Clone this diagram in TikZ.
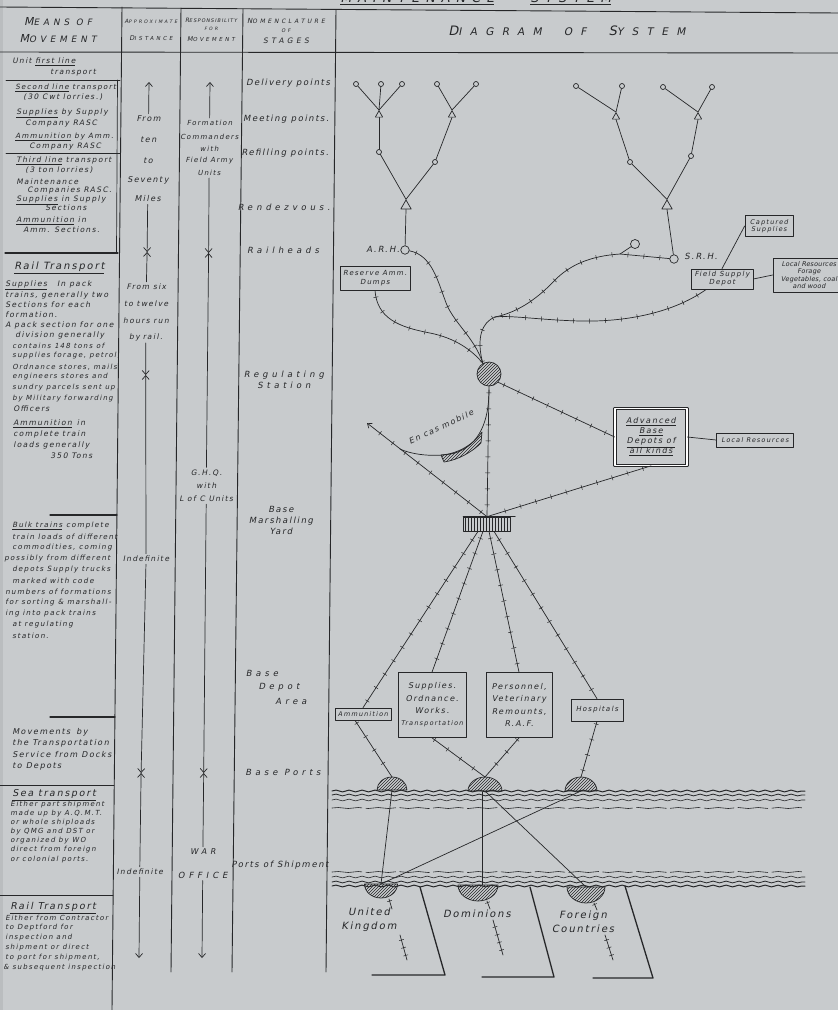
\documentclass[tikz,border=0pt]{standalone}
\usepackage{fontspec}
\setmainfont{DejaVu Sans}
\newfontfamily\hwa{DejaVu Sans}[LetterSpace=3, FakeSlant=0.2]
\newfontfamily\hwb{DejaVu Sans}[LetterSpace=18, FakeSlant=0.2]
\newfontfamily\hwc{DejaVu Sans}[LetterSpace=45, FakeSlant=0.2]
\newfontfamily\hwd{DejaVu Sans}[LetterSpace=80, FakeSlant=0.2]
\usetikzlibrary{shapes.geometric,patterns,decorations.markings,decorations.pathmorphing,arrows.meta,calc}
\definecolor{paper}{RGB}{200,203,205}
\definecolor{ink}{RGB}{38,39,41}
\newcommand\fsz[1]{\fontsize{#1}{#1}\selectfont}
\tikzset{
  L/.style={anchor=west, inner sep=0pt, font=\hwb\fsz{7.5}},
  Lq/.style={anchor=west, inner sep=0pt, font=\hwb\fsz{7.2}},
  Ls/.style={anchor=west, inner sep=0pt, font=\hwb\fsz{7}},
  Lb/.style={anchor=west, inner sep=0pt, font=\hwb\fsz{7.6}},
  Lh/.style={anchor=west, inner sep=0pt, font=\hwb\fsz{10}},
  ctr/.style={inner sep=0pt, align=center, font=\hwb\fsz{7.5}},
  nom/.style={inner sep=0pt, align=center, font=\hwb\fontsize{8.5}{11}\selectfont},
  noms/.style={inner sep=0pt, align=center, font=\hwc\fontsize{8.5}{11}\selectfont},
  hd/.style={inner sep=0pt, font=\hwc},
  bx/.style={draw, inner sep=1pt, align=center, line width=0.7pt, font=\hwb\fontsize{6.5}{7.5}\selectfont},
  dp/.style={circle, draw, inner sep=0pt, minimum size=5pt},
  tris/.style={regular polygon, regular polygon sides=3, draw, inner sep=0pt, minimum size=8.5pt},
  trib/.style={regular polygon, regular polygon sides=3, draw, inner sep=0pt, minimum size=12pt},
  rail/.style={postaction={decorate, decoration={markings, mark=between positions 0.05 and 0.97 step 16pt with {\draw[-,line width=0.5pt] (0pt,-2.3pt) -- (0pt,2.3pt);}}}},
  railsh/.style={postaction={decorate, decoration={markings, mark=between positions 0.2 and 0.9 step 8pt with {\draw[-,line width=0.5pt] (0pt,-2.3pt) -- (0pt,2.3pt);}}}},
  sea/.style={decorate, decoration={snake, amplitude=0.9pt, segment length=13pt}},
  rule/.style={line width=0.9pt},
  tip/.style={-{Straight Barb[length=4pt,width=7pt]}, shorten <=2pt},
  land/.style={line width=1.3pt},
  hatch/.style={pattern=north east lines, pattern color=ink},
}
\begin{document}
\begin{tikzpicture}[x=1pt,y=-1pt,color=ink,line width=0.7pt,line cap=round,line join=round]
\fill[paper] (0,0) rectangle (838,1010);
\useasboundingbox (0,0) rectangle (838,1010);
\fill[paper!93!black] (0,0) rectangle (3,1010);
% cut-off title
\node[anchor=base west, inner sep=0pt, font=\hwc\fsz{13}] (title) at (340,2.5) {\underline{MAINTENANCE}\hspace{36pt}\underline{SYSTEM}};
% frame rules
\draw[rule] (0,7) -- (838,13);
\draw[rule] (0,52) -- (838,53);
\draw[rule] (122,7) -- (112,1010);
\draw[rule] (181,8) -- (171,972);
\draw[rule] (243,9) -- (232,972);
\draw[rule] (336,10) -- (326,972);
% left column separators
\draw[rule] (6,80) -- (120,80);
\draw[rule] (6,153) -- (120,153);
\draw (117.5,80) -- (116.5,253);
\draw[line width=1.2pt] (5,253) -- (118,253);
\draw[line width=1.1pt] (50,515) -- (117,515);
\draw[line width=1.1pt] (50,717) -- (115,717);
\draw[rule] (0,785) -- (114,785);
\draw[rule] (0,895) -- (113,895);
% headers
\node[hd] (h1) at (58,22) {\fsz{8.8}{\fsz{11}M}EANS OF};
\node[hd] (h2) at (58,39) {\fsz{8.8}{\fsz{11}M}OVEMENT};
\node[hd] (h3) at (151,21) {\fsz{4.7}{\fsz{5.8}A}PPROXIMATE};
\node[hd] (h4) at (151,38) {\fsz{5.5}{\fsz{6.5}D}ISTANCE};
\node[inner sep=0pt, font=\hwb] (h5) at (211,20) {\fsz{5}{\fsz{6}R}ESPONSIBILITY};
\node[hd] (h6) at (211,29) {\fsz{4.5}FOR};
\node[hd] (h7) at (211,39) {\fsz{5.5}{\fsz{6.5}M}OVEMENT};
\node[hd] (h8) at (286,21) {\fsz{6}{\fsz{7}N}OMENCLATURE};
\node[hd] (h9) at (286,31) {\fsz{5}OF};
\node[hd] (h10) at (286,41) {\fsz{7.5}STAGES};
\node[inner sep=0pt, font=\hwd] (h11) at (567,31) {\fsz{10.5}{\fsz{13}D}IAGRAM\hspace{22pt}OF\hspace{22pt}{\fsz{13}S}YSTEM};
% left column notes
\node[L] (a1) at (12,62) {Unit \underline{first line}};
\node[L] (a2) at (50,73) {transport};
\node[Lq] (a3) at (15,88) {\underline{Second line} transport};
\node[L] (a4) at (23,97) {(30 Cwt lorries.)};
\node[L] (a5) at (16,113) {\underline{Supplies} by Supply};
\node[L] (a6) at (25,123) {Company RASC};
\node[Lq] (a7) at (15,137) {\underline{Ammunition} by Amm.};
\node[L] (a8) at (29,146) {Company RASC};
\node[L] (a9) at (16,161) {\underline{Third line} transport};
\node[L] (a10) at (25,170) {(3 ton lorries)};
\node[L] (a11) at (16,182) {Maintenance};
\node[L] (a12) at (27,190) {Companies RASC.};
\node[L] (a13) at (16,200) {\underline{Supplies} in Supply};
\node[L] (a14) at (45,208) {Sections};
\node[L] (a15) at (16,221) {\underline{Ammunition} in};
\node[L] (a16) at (23,230) {Amm. Sections.};
\node[Lh] (a17) at (14,268) {\underline{Rail Transport}};
\node[Lb] (a18) at (5,285) {\underline{Supplies}\hspace{10pt}In pack};
\node[Lb] (a19) at (5,295) {trains, generally two};
\node[Lb] (a20) at (5,305) {Sections for each};
\node[Lb] (a21) at (5,315) {formation.};
\node[Lb] (a22) at (5,325) {A pack section for one};
\node[Lb] (a23) at (15,335) {division generally};
\node[Ls] (a24) at (12,346) {contains 148 tons of};
\node[Ls] (a25) at (12,356) {supplies forage, petrol,};
\node[Ls] (a26) at (12,367) {Ordnance stores, mails};
\node[Ls] (a27) at (12,377) {engineers stores and};
\node[Ls] (a28) at (12,388) {sundry parcels sent up};
\node[Ls] (a29) at (12,399) {by Military forwarding};
\node[Lb] (a30) at (13,409) {Officers};
\node[Lb] (a31) at (13,424) {\underline{Ammunition}\hspace{5pt}in};
\node[Lb] (a32) at (13,434) {complete train};
\node[Lb] (a33) at (13,445) {loads generally};
\node[Lb] (a34) at (50,456) {350 Tons};
\node[Lq] (a35) at (12,526) {\underline{Bulk trains} complete};
\node[Lq] (a36) at (12,537) {train loads of different};
\node[Lq] (a37) at (12,548) {commodities, coming};
\node[Lq] (a38) at (4,559) {possibly from different};
\node[Lq] (a39) at (12,570) {depots Supply trucks};
\node[Lq] (a40) at (12,581) {marked with code};
\node[Lq] (a41) at (5,592) {numbers of formations};
\node[Lq] (a42) at (5,603) {for sorting \& marshall-};
\node[Lq] (a43) at (5,614) {ing into pack trains};
\node[Lq] (a44) at (12,625) {at regulating};
\node[Lq] (a45) at (12,636) {station.};
\node[Lb, font=\hwb\fsz{8}] (a46) at (12,732) {Movements\hspace{6pt}by};
\node[Lb, font=\hwb\fsz{8}] (a47) at (12,743) {the Transportation};
\node[Lb, font=\hwb\fsz{8}] (a48) at (12,755) {Service from Docks};
\node[Lb, font=\hwb\fsz{8}] (a49) at (12,766) {to Depots};
\node[Lh, font=\hwb\fsz{9.5}] (a50) at (12,795) {\underline{Sea transport}};
\node[Ls] (a51) at (10,805) {Either part shipment};
\node[Ls] (a52) at (10,814) {made up by A.Q.M.T.};
\node[Ls] (a53) at (10,823) {or whole shiploads};
\node[Ls] (a54) at (10,832) {by QMG and DST or};
\node[Ls] (a55) at (10,841) {organized by WO};
\node[Ls] (a56) at (10,850) {direct from foreign};
\node[Ls] (a57) at (10,860) {or colonial ports.};
\node[Lh, font=\hwb\fsz{9.5}] (a58) at (10,908) {\underline{Rail Transport}};
\node[Ls] (a59) at (5,918) {Either from Contractor};
\node[Ls] (a60) at (5,928) {to Deptford for};
\node[Ls] (a61) at (5,938) {inspection and};
\node[Ls] (a62) at (5,948) {shipment or direct};
\node[Ls] (a63) at (5,958) {to port for shipment,};
\node[Ls] (a64) at (3,968) {\& subsequent inspection};
% column 2: approximate distance
\coordinate (b0) at (149,82);
\node[ctr, font=\hwb\fsz{8}] (b1) at (148.6,119) {From};
\node[ctr, font=\hwb\fsz{8}] (b2) at (148.4,140) {ten};
\node[ctr, font=\hwb\fsz{8}] (b3) at (148.1,161) {to};
\node[ctr, font=\hwb\fsz{8}] (b4) at (147.9,180) {Seventy};
\node[ctr, font=\hwb\fsz{8}] (b5) at (147.7,199) {Miles};
\coordinate (bx1) at (147.1,252);
\node[ctr] (b6) at (146.4,287) {From six};
\node[ctr] (b7) at (146.2,304) {to twelve};
\node[ctr] (b8) at (146.0,321) {hours run};
\node[ctr] (b9) at (145.8,337) {by\hspace{3pt}rail.};
\coordinate (bx2) at (145.7,375);
\node[ctr] (b10) at (146,559) {Indefinite};
\coordinate (bx3) at (141.1,773);
\node[ctr] (b11) at (139.8,872) {Indefinite};
\coordinate (b12) at (139,958);
\draw[tip] (b1.north) -- (b0);
\draw[tip] (b5.south) -- (bx1);
\draw[tip] (b6.north) -- (bx1);
\draw[tip] (b9.south) -- (bx2);
\draw[tip] (b10.north) -- (bx2);
\draw[tip] (b10.south) -- (bx3);
\draw[tip] (b11.north) -- (bx3);
\draw[tip] (b11.south) -- (b12);
% column 3: responsibility
\coordinate (c0) at (210,82);
\node[ctr, font=\hwb\fsz{7}] (c1) at (209.6,123) {Formation};
\node[ctr, font=\hwb\fsz{7}] (c2) at (209.4,137) {Commanders};
\node[ctr, font=\hwb\fsz{7}] (c3) at (209.3,149) {with};
\node[ctr, font=\hwb\fsz{7}] (c4) at (209.2,161) {Field Army};
\node[ctr, font=\hwb\fsz{7}] (c5) at (209.1,173) {Units};
\coordinate (cx1) at (208.6,253);
\node[ctr] (c6) at (206.4,473) {G.H.Q.};
\node[ctr] (c7) at (206.3,486) {with};
\node[ctr] (c8) at (206.2,499) {L of C Units};
\coordinate (cx2) at (203.7,773);
\node[ctr, font=\hwc\fsz{8}] (c9) at (202.9,852) {WAR};
\node[ctr, font=\hwc\fsz{8.5}] (c10) at (202.7,875) {OFFICE};
\coordinate (c11) at (202,958);
\draw[tip] (c1.north) -- (c0);
\draw[tip] (c5.south) -- (cx1);
\draw[tip] (c6.north) -- (cx1);
\draw[tip] (c8.south) -- (cx2);
\draw[tip] (c9.north) -- (cx2);
\draw[tip] (c10.south) -- (c11);
% column 4: nomenclature
\node[nom] (n1) at (288,83) {Delivery points};
\node[nom] (n2) at (286,119) {Meeting points.};
\node[nom] (n3) at (285,153) {Refilling points.};
\node[noms] (n4) at (284,207) {Rendezvous.};
\node[noms] (n5) at (283,250) {Railheads};
\node[noms] (n6) at (284,380) {Regulating\\Station};
\node[nom] (n7) at (281,520) {Base\\Marshalling\\Yard};
\node[noms] (n8) at (262,673) {Base};
\node[noms] (n9) at (279,687) {Depot};
\node[noms] (n10) at (291,701) {Area};
\node[noms] (n11) at (283,772) {Base Ports};
\node[nom] (n12) at (280,865) {Ports of Shipment};
% ---------- diagram: left tree
\node[dp] (d1) at (356,84) {};
\node[dp] (d2) at (381,84) {};
\node[dp] (d3) at (402,84) {};
\node[dp] (d4) at (437,84) {};
\node[dp] (d5) at (476,84) {};
\node[tris] (m1) at (379,115) {};
\node[tris] (m2) at (452,115) {};
\node[dp] (r1) at (379,152) {};
\node[dp] (r2) at (435,162) {};
\node[trib] (z1) at (406,206) {};
\node[circle, draw, inner sep=0pt, minimum size=8.5pt] (arh) at (405,250) {};
\node[anchor=east, inner sep=0pt, font=\hwb\fsz{8.5}] (arhl) at (400,249) {A.R.H.};
\foreach \d in {d1,d2,d3} \draw (\d) -- (m1.corner 1);
\foreach \d in {d4,d5} \draw (\d) -- (m2.corner 1);
\draw (m1.south) -- (r1);
\draw (m2.south) -- (r2);
\draw (r1) -- (z1.corner 1);
\draw (r2) -- (z1.corner 1);
\draw (z1.south) -- (arh);
% right tree
\node[dp] (d6) at (576,86) {};
\node[dp] (d7) at (622,86) {};
\node[dp] (d8) at (663,87) {};
\node[dp] (d9) at (712,87) {};
\node[tris] (m3) at (616,117) {};
\node[tris] (m4) at (698,117) {};
\node[dp] (r3) at (630,162) {};
\node[dp] (r4) at (691,156) {};
\node[trib] (z2) at (667,206) {};
\node[circle, draw, inner sep=0pt, minimum size=8.5pt] (srh) at (674,259) {};
\node[anchor=west, inner sep=0pt, font=\hwb\fsz{8.5}] (srhl) at (684,256) {S.R.H.};
\foreach \d in {d6,d7} \draw (\d) -- (m3.corner 1);
\foreach \d in {d8,d9} \draw (\d) -- (m4.corner 1);
\draw (m3.south) -- (r3);
\draw (m4.south) -- (r4);
\draw (r3) -- (z2.corner 1);
\draw (r4) -- (z2.corner 1);
\draw (z2.south) -- (srh);
% boxes upper
\node[bx, minimum width=70pt, minimum height=24pt, font=\hwb\fontsize{7}{9}\selectfont] (RAD) at (375,278) {Reserve Amm.\\Dumps};
\node[bx, minimum width=48pt, minimum height=21pt] (CS) at (769,226) {Captured\\Supplies};
\node[bx, minimum width=62pt, minimum height=20pt, font=\hwb\fontsize{7}{8}\selectfont] (FSD) at (722,279) {Field Supply\\Depot};
\node[bx, minimum width=72pt, minimum height=34pt, font=\hwa\fontsize{6.5}{7.6}\selectfont] (LR1) at (809,275) {Local Resources\\Forage\\Vegetables, coal\\and wood};
\draw (CS.west) -- (FSD.north);
\draw (FSD.east) -- (LR1.west);
% regulating station
\node[circle, draw, minimum size=24pt, inner sep=0pt, hatch] (RS) at (489,374) {};
\coordinate (J1) at (620,254);
\coordinate (mg) at (495,317);
\node[circle, draw, inner sep=0pt, minimum size=9pt] (c5b) at (635,244) {};
\draw[rail] (arh) .. controls (432,255) and (438,282) .. (445,300) .. controls (452,322) and (474,336) .. (RS.120);
\draw[rail] (RAD.south) .. controls (377,318) and (398,327) .. (430,333) .. controls (455,338) and (472,350) .. (RS.120);
\draw[rail] (srh) -- (J1) .. controls (590,256) and (570,265) .. (555,280) .. controls (540,296) and (520,312) .. (mg);
\draw (J1) -- (c5b);
\draw[rail] ($(FSD.south)!0.5!(FSD.south west)$) .. controls (670,315) and (620,322) .. (580,321) .. controls (540,320) and (510,315) .. (mg);
\draw[rail] (mg) .. controls (482,322) and (476,338) .. (RS.120);
% advanced base depots
\node[draw, double, double distance=1.8pt, minimum width=72pt, minimum height=57pt, inner sep=0pt, align=center, font=\hwb\fontsize{8}{10}\selectfont] (ABD) at (651,437) {\underline{Advanced}\\\underline{Base}\\\underline{Depots of}\\\underline{all kinds}};
\node[bx, minimum width=77pt, minimum height=14pt] (LR2) at (755,440) {Local Resources};
\draw (ABD.east) -- (LR2.west);
\draw[rail] (RS.-42) -- (ABD.west);
% marshalling yard
\node[draw, minimum width=47pt, minimum height=14pt, inner sep=0pt, pattern=vertical lines, pattern color=ink] (MY) at (487,524) {};
\draw (MY.north west) -- ++(52,0);
\draw[rail] (RS.south) -- (MY.north);
\draw[rail] (ABD.south) -- (MY.north);
\coordinate (ecm) at (367,423);
\coordinate (ecb) at (489,390);
\coordinate (ecj) at (400,449);
\draw[rail, -{Straight Barb[length=4pt,width=6pt]}] (MY.north) -- (ecm);
\draw (ecb) .. controls (489,420) and (480,445) .. (455,453) .. controls (440,457) and (415,456) .. (ecj);
\draw[hatch] (441,455) .. controls (458,454) and (474,444) .. (482,432) -- (481,443) .. controls (472,452) and (458,460) .. (444,462) -- cycle;
\node[rotate=25, inner sep=0pt, font=\hwb\fsz{8}] (ecl) at (441,427) {En cas mobile};
% base depot boxes
\node[bx, minimum width=56pt, minimum height=12pt] (AMB) at (363,714) {Ammunition};
\node[bx, minimum width=68pt, minimum height=65pt, font=\hwb\fontsize{8}{12.3}\selectfont] (SUP) at (432,705) {Supplies.\\Ordnance.\\Works.\\{\fsz{6.5}Transportation}};
\node[bx, minimum width=66pt, minimum height=65pt, font=\hwb\fontsize{8}{12.5}\selectfont] (PER) at (519,705) {Personnel,\\Veterinary\\Remounts,\\R.A.F.};
\node[bx, minimum width=52pt, minimum height=22pt, font=\hwb\fsz{7}] (HOS) at (597,710) {Hospitals};
\draw[rail] ($(MY.south)+(-9,0)$) -- (AMB.north);
\draw[rail] ($(MY.south)+(-4,0)$) -- (SUP.north);
\draw[rail] ($(MY.south)+(2,0)$) -- (PER.north);
\draw[rail] ($(MY.south)+(7,0)$) -- (HOS.north);
% ports
\coordinate (P1) at (392,790);
\coordinate (P2) at (485,791);
\coordinate (P3) at (581,791);
\coordinate (UK) at (381,884);
\coordinate (DM) at (478,885);
\coordinate (FC) at (586,887);
\coordinate (P1t) at (392,777);
\coordinate (P2t) at (485,777);
\coordinate (P3t) at (581,777);
\draw[rail] ($(AMB.south)+(-8,0)$) -- (P1t);
\draw[rail] (SUP.south) -- (P2t);
\draw[rail] (PER.south) -- (P2t);
\draw[rail] (HOS.south) -- (P3t);
% sea bands
\foreach \yy/\w in {791/1.0, 795/0.8, 800/0.6} \draw[sea, line width=\w pt] (332,\yy) -- (805,\yy);
\draw[dashed, dash pattern=on 30pt off 4pt, line width=0.6pt, decorate, decoration={snake, amplitude=0.5pt, segment length=20pt}] (332,808) -- (805,808);
\draw[dashed, dash pattern=on 30pt off 4pt, line width=0.6pt, decorate, decoration={snake, amplitude=0.5pt, segment length=20pt}] (332,872) -- (805,872);
\foreach \yy/\w in {877/0.6, 882/0.8, 886/1.0} \draw[sea, line width=\w pt] (332,\yy) -- (805,\yy);
\draw[hatch] ($(P1)+(-15,0)$) arc[start angle=180, end angle=0, x radius=15pt, y radius=13pt] -- cycle;
\draw[hatch] ($(P2)+(-17,0)$) arc[start angle=180, end angle=0, x radius=17pt, y radius=14pt] -- cycle;
\draw[hatch] ($(P3)+(-16,0)$) arc[start angle=180, end angle=0, x radius=16pt, y radius=14pt] -- cycle;
\draw[hatch] ($(UK)+(-16.5,0)$) arc[start angle=180, end angle=360, x radius=16.5pt, y radius=14pt] -- cycle;
\draw[hatch] ($(DM)+(-20,0)$) arc[start angle=180, end angle=360, x radius=20pt, y radius=16pt] -- cycle;
\draw[hatch] ($(FC)+(-19,0)$) arc[start angle=180, end angle=360, x radius=19pt, y radius=16pt] -- cycle;
% shipping routes
\coordinate (P2a) at (482,792);
\coordinate (DMa) at (482,885);
\draw (P1) -- (UK);
\draw (P2a) -- (DMa);
\draw (P2) -- (FC);
\draw (P3) -- (UK);
% lands
\draw[land] (420,887) -- (445,975) -- (372,975);
\draw[land] (530,887) -- (554,977) -- (482,977);
\draw[land] (625,886) -- (653,978) -- (593,978);
\node[inner sep=0pt, align=center, font=\hwb\fontsize{10}{14}\selectfont] (ukl) at (369,920) {United\\Kingdom};
\node[inner sep=0pt, font=\hwb\fsz{10}] (dml) at (477,914) {Dominions};
\node[inner sep=0pt, align=center, font=\hwb\fontsize{10}{14}\selectfont] (fcl) at (583,922) {Foreign\\Countries};
\coordinate (uk1) at (389,899); \coordinate (uk2) at (392,909);
\coordinate (uk3) at (400,935); \coordinate (uk4) at (407,960);
\coordinate (dm1) at (487,901); \coordinate (dm2) at (490,909);
\coordinate (dm3) at (493,920); \coordinate (dm4) at (503,955);
\coordinate (fc1) at (594,903); \coordinate (fc2) at (597,910);
\coordinate (fc3) at (605,935); \coordinate (fc4) at (613,960);
\draw[railsh] (uk1) -- (uk2);
\draw[railsh] (uk3) -- (uk4);
\draw[railsh] (dm1) -- (dm2);
\draw[railsh] (dm3) -- (dm4);
\draw[railsh] (fc1) -- (fc2);
\draw[railsh] (fc3) -- (fc4);
\end{tikzpicture}
\end{document}
